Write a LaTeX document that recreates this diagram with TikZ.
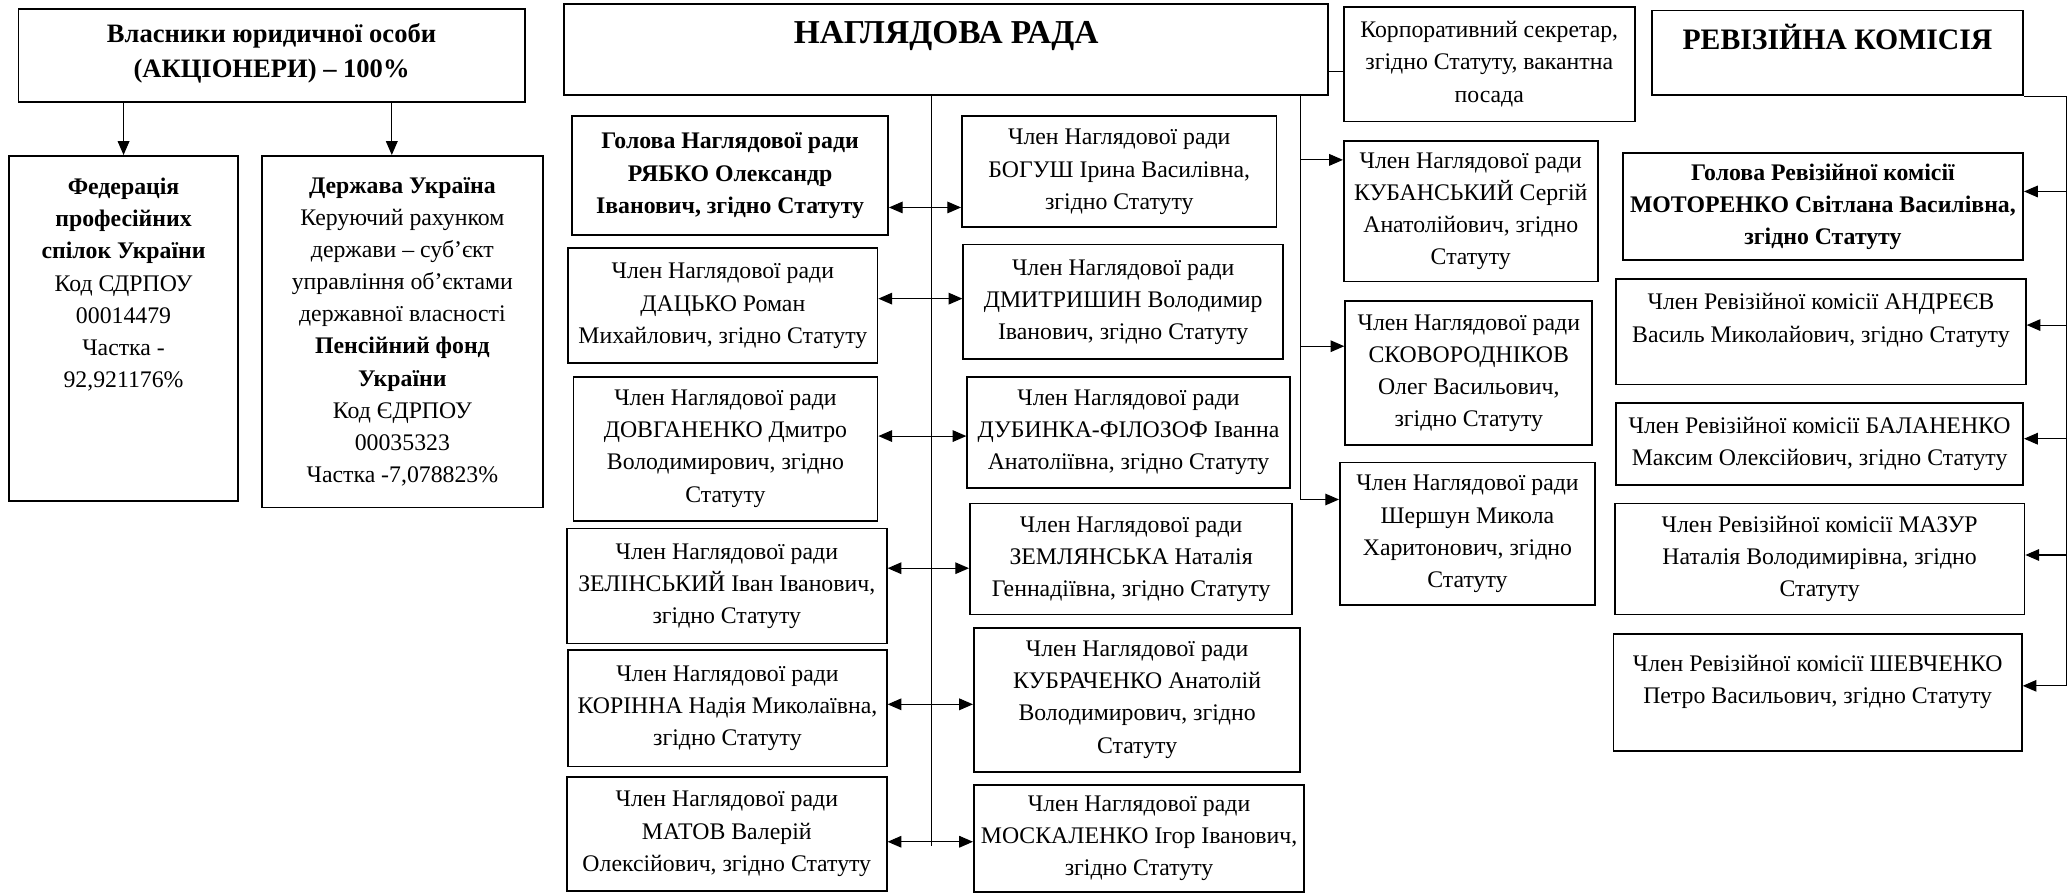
\documentclass[tikz,border=0pt]{standalone}
\usepackage{fontspec}
\setmainfont{Liberation Serif}
\usepackage{tikz}
\usetikzlibrary{arrows.meta}

\newcommand{\boxfont}{\fontsize{12.8}{17.3}\selectfont}
\newcommand{\headfont}{\fontsize{18}{21}\selectfont\bfseries}
\newcommand{\revfont}{\fontsize{16}{19}\selectfont\bfseries}
\newcommand{\ownfont}{\fontsize{14.3}{19.2}\selectfont\bfseries}

\begin{document}
\begin{tikzpicture}[
    x=0.25mm, y=-0.25mm,
    box/.style={rectangle, draw, line width=1pt, inner sep=2pt, align=center, font=\boxfont},
    chairbox/.style={box, font=\boxfont\bfseries},
    topbox/.style={box, inner sep=0pt},
    headbox/.style={box, inner sep=0pt, font=\headfont},
    link/.style={line width=0.6pt},
    arr/.style={link, -{Triangle[length=2.6mm, width=2.2mm]}},
    darr/.style={link, {Triangle[length=2.6mm, width=2.2mm]}-{Triangle[length=2.6mm, width=2.2mm]}},
]
\useasboundingbox (0,0) rectangle (1568,677);

% Owners on the left
\node[topbox, font=\ownfont] (owners) at (205.5,42) {\parbox[c][17.5mm][t]{95.75mm}{\centering\vspace*{2.6mm}Власники юридичної особи\\(АКЦІОНЕРИ) – 100\%}};
\node[topbox] (fed) at (93.5,248.5) {\parbox[c][65.25mm][t]{43.25mm}{\centering\vspace*{4.2mm}\textbf{Федерація}\\\textbf{професійних}\\\textbf{спілок України}\\Код СДРПОУ\\00014479\\Частка -\\92,921176\%}};
\node[box, minimum width=53.25mm, minimum height=66.5mm] (state) at (304.5,251) {\textbf{Держава Україна}\\Керуючий рахунком\\держави – суб’єкт\\управління об’єктами\\державної власності\\\textbf{Пенсійний фонд}\\\textbf{України}\\Код ЄДРПОУ\\00035323\\Частка -7,078823\%};

\draw[arr] (fed.north |- owners.south) -- (fed.north);
\draw[arr] ([xshift=-2mm]state.north |- owners.south) -- ([xshift=-2mm]state.north);

% Supervisory board
\node[headbox] (board) at (716,37.5) {\parbox[c][17.25mm][t]{144.5mm}{\centering\vspace*{3.2mm}НАГЛЯДОВА РАДА}};
\node[box, minimum width=55mm, minimum height=21.75mm] (corp) at (1127,48.5) {Корпоративний секретар,\\згідно Статуту, вакантна\\посада};
\draw[link] ([yshift=-1.4mm]corp.west -| board.east) -- ([yshift=-1.4mm]corp.west);

% Board members, left column
\node[chairbox, minimum width=59.75mm, minimum height=22.5mm] (chair) at (552.5,133) {Голова Наглядової ради\\РЯБКО Олександр\\Іванович, згідно Статуту};
\node[box, minimum width=58.5mm, minimum height=21.75mm] (datsko) at (547,231.5) {Член Наглядової ради\\ДАЦЬКО Роман\\Михайлович, згідно Статуту};
\node[box, minimum width=57.5mm, minimum height=27.25mm] (dovh) at (549,339.5) {Член Наглядової ради\\ДОВГАНЕНКО Дмитро\\Володимирович, згідно\\Статуту};
\node[box, minimum width=60.5mm, minimum height=21.75mm] (zelin) at (550,443.5) {Член Наглядової ради\\ЗЕЛІНСЬКИЙ Іван Іванович,\\згідно Статуту};
\node[box, minimum width=60.25mm, minimum height=22mm] (korin) at (550.5,536) {Член Наглядової ради\\КОРІННА Надія Миколаївна,\\згідно Статуту};
\node[box, minimum width=60.5mm, minimum height=21.5mm] (matov) at (550,631) {Член Наглядової ради\\МАТОВ Валерій\\Олексійович, згідно Статуту};

% Board members, right column
\node[box, minimum width=59.5mm, minimum height=21mm] (bohush) at (847,130) {Член Наглядової ради\\БОГУШ Ірина Василівна,\\згідно Статуту};
\node[box, minimum width=60.5mm, minimum height=21.75mm] (dmytr) at (850,228.5) {Член Наглядової ради\\ДМИТРИШИН Володимир\\Іванович, згідно Статуту};
\node[box, minimum width=61mm, minimum height=21mm] (dubyn) at (854,327) {Член Наглядової ради\\ДУБИНКА-ФІЛОЗОФ Іванна\\Анатоліївна, згідно Статуту};
\node[box, minimum width=61mm, minimum height=21mm] (zeml) at (856,423) {Член Наглядової ради\\ЗЕМЛЯНСЬКА Наталія\\Геннадіївна, згідно Статуту};
\node[box, minimum width=61.75mm, minimum height=27.25mm] (kubr) at (860.5,529.5) {Член Наглядової ради\\КУБРАЧЕНКО Анатолій\\Володимирович, згідно\\Статуту};
\node[box, minimum width=62.5mm, minimum height=20.25mm] (moskal) at (862,634.5) {Член Наглядової ради\\МОСКАЛЕНКО Ігор Іванович,\\згідно Статуту};

% Board members, third column
\node[box, minimum width=48mm, minimum height=26.5mm] (kuban) at (1113,160) {Член Наглядової ради\\КУБАНСЬКИЙ Сергій\\Анатолійович, згідно\\Статуту};
\node[box, minimum width=46.75mm, minimum height=27.25mm] (skovor) at (1111.5,282.5) {Член Наглядової ради\\СКОВОРОДНІКОВ\\Олег Васильович,\\згідно Статуту};
\node[box, minimum width=48.25mm, minimum height=27mm] (shersh) at (1110.5,404) {Член Наглядової ради\\Шершун Микола\\Харитонович, згідно\\Статуту};

% Spines from the board
\coordinate (lspine) at (705,640);
\coordinate (rspine) at (984,378);
\draw[link] (lspine |- board.south) -- (lspine);
\draw[link] (rspine |- board.south) -- (rspine);

% Links between the columns
\draw[darr] ([yshift=-6mm]chair.east) -- ([yshift=-6mm]chair.east -| bohush.west);
\draw[darr] ([yshift=1.375mm]datsko.east) -- ([yshift=1.375mm]datsko.east -| dmytr.west);
\draw[darr] ([yshift=2.375mm]dovh.east) -- ([yshift=2.375mm]dovh.east -| dubyn.west);
\draw[darr] ([yshift=3.375mm]zelin.east) -- ([yshift=3.375mm]zelin.east -| zeml.west);
\draw[darr] ([yshift=0.75mm]korin.east) -- ([yshift=0.75mm]korin.east -| kubr.west);
\draw[darr] ([yshift=-1.5mm]matov.east) -- ([yshift=-1.5mm]matov.east -| moskal.west);

\draw[arr] ([yshift=9.75mm]kuban.west -| rspine) -- ([yshift=9.75mm]kuban.west);
\draw[arr] ([yshift=5.125mm]skovor.west -| rspine) -- ([yshift=5.125mm]skovor.west);
\draw[arr] ([yshift=6.5mm]shersh.west -| rspine) -- ([yshift=6.5mm]shersh.west);

% Audit commission
\node[headbox, font=\revfont] (rev) at (1390.5,40) {\parbox[c][16mm][t]{70.25mm}{\centering\vspace*{2.5mm}РЕВІЗІЙНА КОМІСІЯ}};
\node[chairbox, minimum width=75.75mm, minimum height=20.25mm] (revhead) at (1379.5,156.5) {Голова Ревізійної комісії\\МОТОРЕНКО Світлана Василівна,\\згідно Статуту};
\node[topbox] (andr) at (1378,251) {\parbox[c][20mm][t]{77.5mm}{\centering\vspace*{2.8mm}Член Ревізійної комісії АНДРЕЄВ\\Василь Миколайович, згідно Статуту}};
\node[box, minimum width=77mm, minimum height=15.5mm] (balan) at (1377,336) {Член Ревізійної комісії БАЛАНЕНКО\\Максим Олексійович, згідно Статуту};
\node[box, minimum width=77.5mm, minimum height=21mm] (mazur) at (1377,423) {Член Ревізійної комісії МАЗУР\\Наталія Володимирівна, згідно\\Статуту};
\node[topbox] (shevch) at (1375.5,524) {\parbox[c][22mm][t]{77.25mm}{\centering\vspace*{3.9mm}Член Ревізійної комісії ШЕВЧЕНКО\\Петро Васильович, згідно Статуту}};

\coordinate (revspine) at (1564,519);
\draw[link] (rev.south east) -- (rev.south east -| revspine) -- (revspine);
\draw[arr] ([yshift=2.9mm]revhead.east -| revspine) -- ([yshift=2.9mm]revhead.east);
\draw[arr] ([yshift=1.25mm]andr.east -| revspine) -- ([yshift=1.25mm]andr.east);
\draw[arr] ([yshift=1mm]balan.east -| revspine) -- ([yshift=1mm]balan.east);
\draw[arr] ([yshift=0.75mm]mazur.east -| revspine) -- ([yshift=0.75mm]mazur.east);
\draw[arr] ([yshift=1.25mm]shevch.east -| revspine) -- ([yshift=1.25mm]shevch.east);

\end{tikzpicture}
\end{document}
